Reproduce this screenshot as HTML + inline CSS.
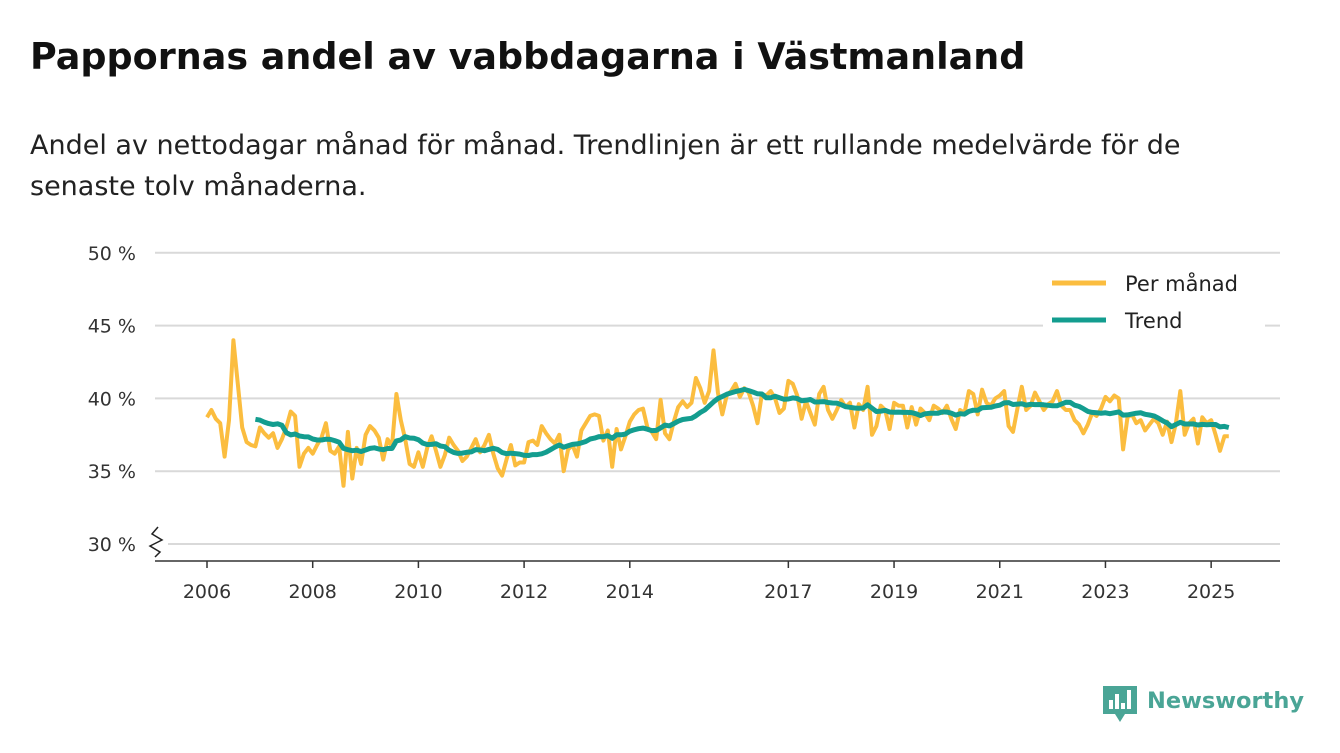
<!DOCTYPE html>
<html><head><meta charset="utf-8"><style>
body{margin:0;background:#fff;width:1340px;height:753px;overflow:hidden;font-family:"DejaVu Sans","Liberation Sans",sans-serif;color:#111}
h1{position:absolute;left:30px;top:35px;margin:0;font-size:36.5px;font-weight:bold;white-space:nowrap}
p{position:absolute;left:30px;top:125px;margin:0;font-size:27px;line-height:41px;width:1235px;color:#222}
svg{position:absolute;left:0;top:0;font-family:"DejaVu Sans","Liberation Sans",sans-serif}
</style></head><body>
<h1>Pappornas andel av vabbdagarna i Västmanland</h1>
<p>Andel av nettodagar månad för månad. Trendlinjen är ett rullande medelvärde för de senaste tolv månaderna.</p>
<svg id="c" width="1340" height="753"></svg>
<script>
const startYear = 2006;
const monthlyValues = [
38.7,39.2,38.6,38.3,36.0,38.5,44.0,41.0,38.0,37.0,36.8,36.7,
38.0,37.6,37.3,37.6,36.6,37.2,38.0,39.1,38.8,35.3,36.2,36.6,
36.2,36.8,37.3,38.3,36.4,36.2,36.7,34.0,37.7,34.5,36.6,35.5,
37.5,38.1,37.8,37.3,35.8,37.2,36.7,40.3,38.5,37.2,35.5,35.3,
36.3,35.3,36.6,37.4,36.4,35.3,36.1,37.3,36.8,36.4,35.7,36.0,
36.6,37.2,36.3,36.8,37.5,36.2,35.2,34.7,35.8,36.8,35.4,35.6,
35.6,37.0,37.1,36.8,38.1,37.6,37.2,36.9,37.5,35.0,36.5,36.8,
36.0,37.8,38.3,38.8,38.9,38.8,37.1,37.8,35.3,37.9,36.5,37.4,
38.4,38.9,39.2,39.3,38.0,37.7,37.2,39.9,37.6,37.2,38.4,39.4,
39.8,39.4,39.7,41.4,40.7,39.7,40.5,43.3,40.4,38.9,40.2,40.5,
41.0,40.1,40.7,40.4,39.5,38.3,40.3,40.2,40.5,40.0,39.0,39.3,
41.2,41.0,40.2,38.6,39.8,39.0,38.2,40.3,40.8,39.2,38.6,39.2,
39.9,39.4,39.7,38.0,39.6,39.2,40.8,37.5,38.1,39.5,39.2,37.9,
39.7,39.5,39.5,38.0,39.4,38.2,39.3,39.0,38.5,39.5,39.3,39.0,
39.5,38.6,37.9,39.2,39.0,40.5,40.3,38.9,40.6,39.7,39.5,40.0,
40.2,40.5,38.1,37.7,39.3,40.8,39.2,39.5,40.4,39.8,39.2,39.6,
39.8,40.5,39.5,39.2,39.2,38.5,38.2,37.6,38.2,39.0,38.8,39.3,
40.1,39.8,40.2,40.0,36.5,38.7,38.9,38.3,38.5,37.8,38.2,38.6,
38.3,37.5,38.4,37.0,38.3,40.5,37.5,38.3,38.6,36.9,38.7,38.3,
38.5,37.5,36.4,37.4,37.4];
const yTicks = [30,35,40,45,50];
const yTickLabels = ["30 %","35 %","40 %","45 %","50 %"];
const xTicks = [2006,2008,2010,2012,2014,2017,2019,2021,2023,2025];

const NS='http://www.w3.org/2000/svg';
const svg=document.getElementById('c');
const xs=t=>207+(t-2006)*52.85;
const ys=v=>544-(v-30)*14.56;
function mk(tag,attrs){const e=document.createElementNS(NS,tag);for(const k in attrs)e.setAttribute(k,attrs[k]);svg.appendChild(e);return e;}

yTicks.forEach((v,i)=>{
  const g=mk('line',{x1:v>30?155:168,x2:1280,y1:ys(v),y2:ys(v),stroke:'#d9d9d9','stroke-width':2});
  
  
  const t=mk('text',{x:136,y:ys(v)+7,'text-anchor':'end','font-size':19,fill:'#333'});
  t.textContent=yTickLabels[i];
  
  
});
const brk=mk('path',{d:'M158,527 L152,534 L162,540 L150,546 L160,552 L155,557',fill:'none',stroke:'#222','stroke-width':1.5});


const ax=mk('line',{x1:155,x2:1280,y1:561,y2:561,stroke:'#333','stroke-width':1.5});


xTicks.forEach(y=>{
  const tk=mk('line',{x1:xs(y),x2:xs(y),y1:561,y2:568,stroke:'#333','stroke-width':1.5});
  
  
  const t=mk('text',{x:xs(y),y:598,'text-anchor':'middle','font-size':19,fill:'#333'});
  t.textContent=y;
  
  
});
const tx=i=>xs(startYear+i/12);
let d=monthlyValues.map((v,i)=>(i?'L':'M')+tx(i).toFixed(1)+','+ys(v).toFixed(1)).join('');
const ml=mk('path',{d,fill:'none',stroke:'#fbbd3f','stroke-width':4,'stroke-linejoin':'round'});


let td='';
for(let i=11;i<monthlyValues.length;i++){
  let s=0;for(let j=i-11;j<=i;j++)s+=monthlyValues[j];
  td+=(i===11?'M':'L')+tx(i).toFixed(1)+','+ys(s/12).toFixed(1);
}
const tl=mk('path',{d:td,fill:'none',stroke:'#139d8f','stroke-width':5,'stroke-linejoin':'round'});


const lb=mk('rect',{x:1043,y:262,width:222,height:75,fill:'#fff'});


[['Per månad','#fbbd3f',283],['Trend','#139d8f',320]].forEach(([n,c,y])=>{
  const l=mk('line',{x1:1052,x2:1106,y1:y,y2:y,stroke:c,'stroke-width':5});
  
  
  const t=mk('text',{x:1125,y:y+8,'font-size':21,fill:'#222'});
  t.textContent=n;
  
  
});
const logo=mk('path',{d:'M1103,686 h34 v28 h-12 l-5,8 l-5,-8 h-12 z',fill:'#4aa596'});


[[1109,700,4,9],[1115,694,4,15],[1121,703,4,6],[1127,690,4,19]].forEach(([x,y,w,h])=>{const r=mk('rect',{x,y,width:w,height:h,fill:'#fff'});});
const lt=mk('text',{x:1147,y:708,'font-size':22.5,'font-weight':'bold',fill:'#4aa596'});
lt.textContent='Newsworthy';


</script>
</body></html>
